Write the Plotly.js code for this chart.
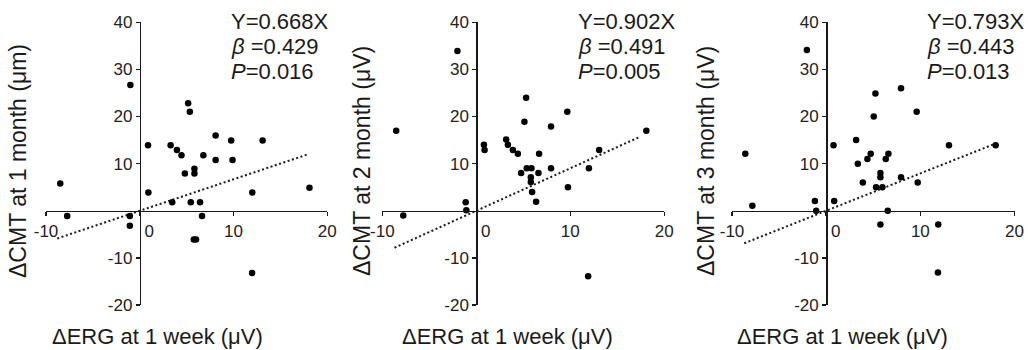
<!DOCTYPE html>
<html>
<head>
<meta charset="utf-8">
<script src="https://cdn.plot.ly/plotly-3.0.1.min.js"></script>
<style>html,body{margin:0;padding:0;background:#fff;}#chart{width:1032px;height:350px;}</style>
</head>
<body>
<div id="chart"></div>
<script>
// ---- data ----
const erg1 = [-8.48, -7.74, -1.0, -1.06, -1.06, 0.88, 0.92, 3.29, 3.46, 3.96, 4.45, 4.81, 5.16, 5.34, 5.44, 5.83, 5.83, 5.76, 6.0, 6.43, 6.64, 6.78, 8.09, 8.09, 9.75, 9.89, 12.0, 11.98, 13.1, 18.1];
const cmt1 = [5.8, -1.1, 26.7, -1.1, -3.2, 13.9, 3.9, 13.9, 1.8, 12.9, 11.8, 7.9, 22.8, 21.0, 1.8, 8.9, 7.9, -6.1, -6.1, 1.8, -1.1, 11.8, 16.0, 10.8, 14.9, 10.8, 3.9, -13.2, 14.9, 4.9];

const erg2 = [-8.52, -7.77, -2.01, -1.13, -1.06, 0.81, 0.88, 3.18, 3.36, 3.89, 4.42, 4.77, 5.12, 5.3, 5.37, 5.87, 5.8, 5.8, 5.94, 6.36, 6.61, 6.68, 7.95, 7.95, 9.68, 9.75, 11.98, 11.9, 13.07, 18.09];
const cmt2 = [17.0, -1.0, 33.9, 1.8, 0.1, 14.0, 12.9, 15.1, 14.0, 12.9, 12.1, 8.0, 18.9, 24.0, 9.0, 9.0, 7.1, 6.1, 4.0, 1.9, 8.0, 12.1, 17.9, 9.0, 21.0, 5.0, 9.0, -13.9, 12.9, 17.0];

const erg3 = [-8.59, -7.84, -2.05, -1.2, -1.06, 0.78, 0.85, 3.18, 3.36, 3.89, 4.38, 4.73, 5.05, 5.23, 5.3, 5.76, 5.76, 5.76, 5.97, 6.33, 6.54, 6.61, 7.95, 7.95, 9.61, 9.72, 11.9, 11.87, 13.04, 18.0];
const cmt3 = [12.1, 1.06, 34.1, 2.05, 0.0, 13.9, 2.05, 15.0, 10.0, 6.0, 11.0, 12.1, 20.0, 24.9, 5.0, 8.0, 7.1, -2.9, 5.0, 11.0, 0.0, 12.1, 26.0, 7.1, 21.0, 6.0, -2.9, -13.1, 13.9, 13.9];

const slopes = [0.668, 0.902, 0.793];
const fitX1 = [-8.8, 18.0];
const fitX2 = [-8.7, 17.3];
const fitX3 = [-8.7, 18.0];
const statY = ['Y=0.668X', 'Y=0.902X', 'Y=0.793X'];
const statBeta = ['<i>β</i> =0.429', '<i>β</i> =0.491', '<i>β</i> =0.443'];
const statP = ['<i>P</i>=0.016', '<i>P</i>=0.005', '<i>P</i>=0.013'];
const yTitles = ['ΔCMT at 1 month (μm)', 'ΔCMT at 2 month (μV)', 'ΔCMT at 3 month (μV)'];
const xTitle = 'ΔERG at 1 week (μV)';
const xTickVals = [-10, 0, 10, 20];
const xTickText = ['-10', '\u00a0\u00a0\u00a0\u00a00', '10', '20'];
const yTickVals = [-20, -10, 10, 20, 30, 40];
const yTickText = ['-20', '-10', '10', '20', '30', '40'];

// ---- layout geometry ----
const W = 1032, H = 350;
const FONT = 'Liberation Sans, Arial, sans-serif';
const INK = '#1a1a1a';
const xDomains = [[46 / W, 327.3 / W], [382.3 / W, 664.3 / W], [732 / W, 1014.5 / W]];
const yDomain = [1 - 305 / H, 1 - 22.3 / H];
const xRange = [-10, 20], yRange = [-20, 40];

const ergs = [erg1, erg2, erg3], cmts = [cmt1, cmt2, cmt3], fits = [fitX1, fitX2, fitX3];
const traces = [];
const layout = {
  width: W, height: H,
  margin: {l: 0, r: 0, t: 0, b: 0},
  paper_bgcolor: '#fff', plot_bgcolor: 'rgba(0,0,0,0)',
  showlegend: false,
  font: {family: FONT, color: INK},
  annotations: []
};
const statLeft = [229, 576, 925];
const yTitleX = [18, 362, 706];
const xTitleX = [157, 507, 842];

for (let i = 0; i < 3; i++) {
  const sx = i === 0 ? '' : String(i + 1);
  const xa = 'x' + sx, ya = 'y' + sx;
  traces.push({
    type: 'scatter', mode: 'lines', xaxis: xa, yaxis: ya,
    x: fits[i], y: fits[i].map(v => slopes[i] * v),
    line: {color: INK, width: 2, dash: '2px,2.5px'}, hoverinfo: 'skip'
  });
  traces.push({
    type: 'scatter', mode: 'markers', xaxis: xa, yaxis: ya,
    x: ergs[i], y: cmts[i],
    marker: {color: '#000', size: 6.5, line: {width: 0}}, cliponaxis: false
  });
  const xd = xDomains[i];
  const xPos = yDomain[0] + (yDomain[1] - yDomain[0]) * ((0 - yRange[0]) / (yRange[1] - yRange[0]));
  const yPos = xd[0] + (xd[1] - xd[0]) * ((0 - xRange[0]) / (xRange[1] - xRange[0]));
  layout['xaxis' + sx] = {
    domain: xd, anchor: 'free', position: xPos, range: xRange,
    showgrid: false, zeroline: false, showline: true, linecolor: INK, linewidth: 1.5,
    ticks: 'outside', ticklen: 4, tickwidth: 1.5, tickcolor: INK,
    tickvals: xTickVals, ticktext: xTickText,
    tickfont: {family: FONT, size: 17, color: '#222'}, fixedrange: true
  };
  layout['yaxis' + sx] = {
    domain: yDomain, anchor: 'free', position: yPos, range: yRange,
    showgrid: false, zeroline: false, showline: true, linecolor: INK, linewidth: 1.5,
    ticks: 'outside', ticklen: 4, tickwidth: 1.5, tickcolor: INK,
    tickvals: yTickVals, ticktext: yTickText,
    tickfont: {family: FONT, size: 17, color: '#222'}, fixedrange: true
  };
  const rows = [statY[i], statBeta[i], statP[i]];
  const rowY = [21, 46, 71];
  rows.forEach((t, k) => {
    layout.annotations.push({
      xref: 'paper', yref: 'paper', x: statLeft[i] / W, y: 1 - rowY[k] / H,
      xanchor: 'left', yanchor: 'middle', showarrow: false,
      text: t, font: {family: FONT, size: 22, color: INK}
    });
  });
  layout.annotations.push({
    xref: 'paper', yref: 'paper', x: yTitleX[i] / W, y: 1 - 161 / H,
    xanchor: 'center', yanchor: 'middle', showarrow: false, textangle: -90,
    text: yTitles[i], font: {family: FONT, size: 23, color: INK}
  });
  layout.annotations.push({
    xref: 'paper', yref: 'paper', x: xTitleX[i] / W, y: 1 - 336 / H,
    xanchor: 'center', yanchor: 'middle', showarrow: false,
    text: xTitle, font: {family: FONT, size: 22, color: INK}
  });
}

Plotly.newPlot('chart', traces, layout, {staticPlot: true, displayModeBar: false});
</script>
</body>
</html>
